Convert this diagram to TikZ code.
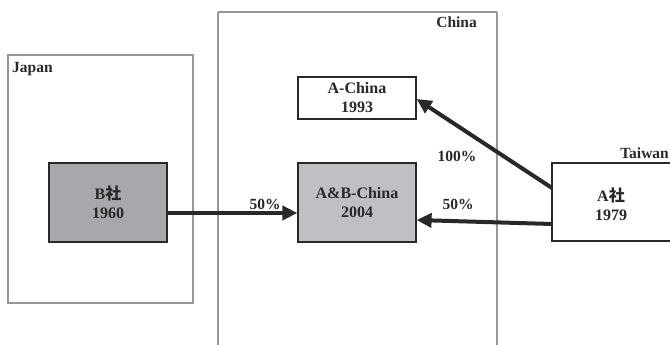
\documentclass[tikz,border=0pt]{standalone}
\usepackage{fontspec}
\setmainfont{Liberation Serif}
\newfontfamily\cjk{Noto Sans CJK JP}
\usetikzlibrary{arrows.meta}
\definecolor{framegray}{RGB}{150,150,155}
\definecolor{boxdark}{RGB}{168,168,172}
\definecolor{boxlight}{RGB}{192,192,196}
\definecolor{ink}{RGB}{40,40,40}
\begin{document}
\begin{tikzpicture}[x=1pt,y=-1pt,
  region/.style={draw=framegray,line width=1.2pt},
  firm/.style={draw=ink,line width=1.2pt,text=ink,font=\bfseries\fontsize{16}{19}\selectfont,align=center,inner sep=0pt},
  firmtext/.style={text=ink,font=\bfseries\fontsize{16}{19}\selectfont,align=center,inner sep=0pt},
  lbl/.style={text=ink,font=\bfseries\fontsize{15.5}{18}\selectfont,inner sep=0pt},
  link/.style={draw=ink,line width=4pt,-{Triangle[length=15pt,width=14pt]}}]
\useasboundingbox (0,0) rectangle (670,345);
% regions
\draw[region] (8,55) rectangle (193,303);
\draw[region] (218,12) -- (218,360);
\draw[region] (497,12) -- (497,360);
\draw[region] (218,12) -- (497,12);
\node[lbl,anchor=north west] (japan) at (12,62) {Japan};
\node[lbl,anchor=north east] (china) at (477,17) {China};
\node[lbl,anchor=south east] (taiwan) at (669,159) {Taiwan};
% firms
\node[firm,fill=boxdark,minimum width=118pt,minimum height=79pt] (b) at (108,202.5) {B{\cjk\bfseries 社}\\1960};
\node[firm,fill=white,minimum width=118pt,minimum height=42pt] (ac) at (357,98) {A-China\\1993};
\node[firm,fill=boxlight,minimum width=118pt,minimum height=79pt] (abc) at (357,202.5) {A\&B-China\\2004};
\node[firm,fill=white,minimum width=140pt,minimum height=78pt] (a) at (622,202) {};
\node[firmtext] (atext) at (611,204) {A{\cjk\bfseries 社}\\1979};
% connectors
\coordinate (a1) at (552,188);
\coordinate (a2) at (552,224);
\draw[link] (b.east |- 0,213) -- (abc.west |- 0,213);
\draw[link] (a2) -- (abc.east |- 0,220);
\draw[link] (a1) -- (ac.east |- 0,99);
\node[lbl] (p1) at (265,204) {50\%};
\node[lbl] (p2) at (458,204) {50\%};
\node[lbl] (p3) at (457,156) {100\%};
\end{tikzpicture}
\end{document}
